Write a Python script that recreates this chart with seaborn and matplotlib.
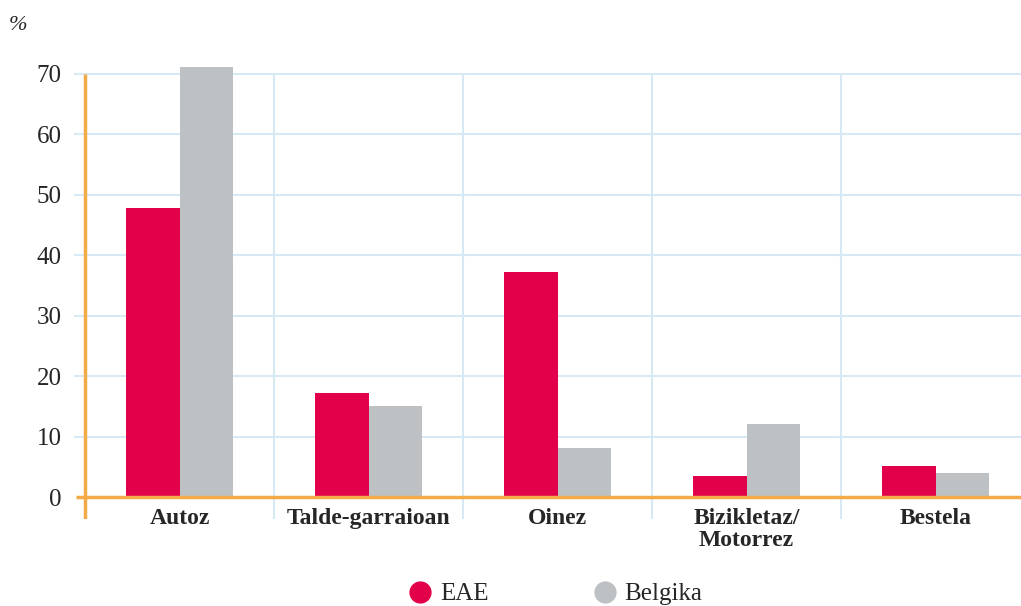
import pandas as pd
import numpy as np
from matplotlib import pyplot as plt
from matplotlib.lines import Line2D
import seaborn as sns

# datuak
categories = ['Autoz', 'Talde-garraioan', 'Oinez', 'Bizikletaz/\nMotorrez', 'Bestela']
eae = [47.8, 17.2, 37.2, 3.5, 5.1]
belgika = [71.2, 15.1, 8.1, 12.1, 4.0]
series = ['EAE', 'Belgika']
yticks = [0, 10, 20, 30, 40, 50, 60, 70]

RED = '#E2004A'
GREY = '#BEC1C4'
ORANGE = '#F5AA48'
GRID = '#D8E9F6'


def main():
    sns.set_style('white')
    plt.rcParams['font.family'] = ['Liberation Serif', 'DejaVu Serif']

    df = pd.DataFrame({
        'kat': categories * 2,
        'val': eae + belgika,
        'serie': [series[0]] * len(categories) + [series[1]] * len(categories),
    })

    fig = plt.figure(figsize=(10.21, 6.06), dpi=100)
    W, H = 1021, 606
    left_px, right_px, top_px, bot_px = 74, 1021, 60, 519
    ax = fig.add_axes([left_px / W, 1 - bot_px / H, (right_px - left_px) / W, (bot_px - top_px) / H])

    sns.barplot(data=df, x='kat', y='val', hue='serie', palette=[RED, GREY],
                width=0.567, saturation=1, legend=False, ax=ax, zorder=3,
                edgecolor='none', linewidth=0)

    px = 189.0
    ymin = -(bot_px - 497) / 6.043
    ymax = 70 + (74 - top_px) / 6.043
    ax.set_xlim(-0.5 - (85 - left_px) / px, -0.5 + (right_px - 85) / px)
    ax.set_ylim(ymin, ymax)

    for s in ax.spines.values():
        s.set_visible(False)

    # ruudukko
    for y in yticks[1:]:
        ax.axhline(y, color=GRID, lw=1.5, zorder=1)
    ax.hlines(0, -0.5 - 9 / px, 5, color=ORANGE, lw=2.5, zorder=4)
    ax.vlines([0.5, 1.5, 2.5, 3.5], ymin, 70, color=GRID, lw=1.5, zorder=1)
    ax.vlines(-0.5, ymin, 70, color=ORANGE, lw=2.5, zorder=4)

    ax.set_yticks(yticks)
    ax.set_yticklabels([str(t) for t in yticks], fontsize=18)
    ax.tick_params(axis='y', length=0, pad=9)
    ax.set_xticks(range(len(categories)))
    ax.set_xticklabels(categories, fontsize=17, fontweight='bold', va='top', linespacing=1.05)
    ax.tick_params(axis='x', length=0, pad=-8)
    ax.set_xlabel('')
    ax.set_ylabel('')

    fig.text(9 / W, 1 - 26 / H, '%', fontsize=16, style='italic', va='center', ha='left')

    handles = [Line2D([], [], marker='o', ls='', color=c, markersize=15) for c in [RED, GREY]]
    fig.legend(handles, series, loc='center', bbox_to_anchor=(555 / W, 1 - 594 / H), ncol=2,
               frameon=False, fontsize=18, handletextpad=0.3, columnspacing=4.15, handlelength=1.0)

    fig.savefig('out.png', dpi=100)


if __name__ == "__main__":
    main()
